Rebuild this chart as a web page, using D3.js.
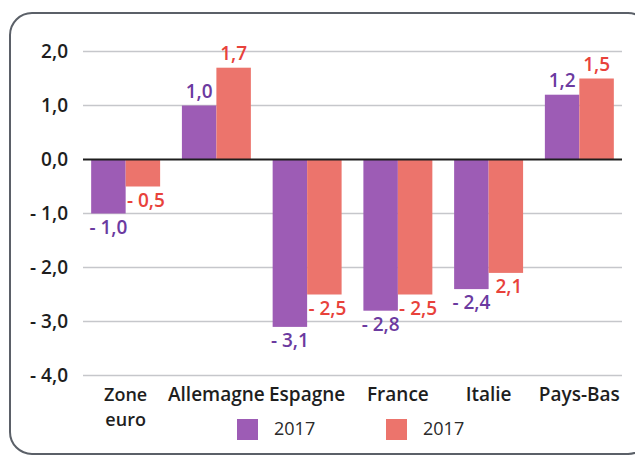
<!DOCTYPE html>
<html>
<head>
<meta charset="utf-8">
<script src="https://cdn.jsdelivr.net/npm/d3@7"></script>
<style>
  html, body { margin: 0; padding: 0; background: #fff; }
  svg { display: block; font-family: "Open Sans", sans-serif; }
</style>
</head>
<body>
<script>
// chart data
const countries = ['Zone euro', 'Allemagne', 'Espagne', 'France', 'Italie', 'Pays-Bas'];
const seriesNames = ['2017', '2017'];
const purpleValues = [-1.0, 1.0, -3.1, -2.8, -2.4, 1.2];
const redValues = [-0.5, 1.7, -2.5, -2.5, -2.1, 1.5];
// labels as printed on the original (the Italie one has no minus sign)
const purpleLabels = ['- 1,0', '1,0', '- 3,1', '- 2,8', '- 2,4', '1,2'];
const redLabels = ['- 0,5', '1,7', '- 2,5', '- 2,5', '2,1', '1,5'];
const yTicks = [2, 1, 0, -1, -2, -3, -4];

const w = 635, h = 457;
const barColors = ['#9d5cb5', '#ec746c'];
const labelColors = ['#6b3aa0', '#e8423b'];

const svg = d3.select("body").append("svg")
  .attr("width", w)
  .attr("height", h);

// rounded frame
svg.append("rect")
  .attr("x", 10)
  .attr("y", 13)
  .attr("width", 640)
  .attr("height", 441)
  .attr("rx", 22)
  .attr("fill", "none")
  .attr("stroke", "#5b6068")
  .attr("stroke-width", 2);

const x0 = d3.scaleBand()
  .domain(countries)
  .range([83, 622])
  .paddingInner(0.24)
  .paddingOuter(0.09);

const x1 = d3.scaleBand()
  .domain([0, 1])
  .range([0, x0.bandwidth()]);

const y = d3.scaleLinear()
  .domain([-4, 2])
  .range([375.5, 51.5]);

// gridlines
svg.append("g").selectAll("line")
  .data(yTicks.filter(t => t !== 0))
  .enter()
  .append("line")
  .attr("x1", 83)
  .attr("x2", 622)
  .attr("y1", d => y(d))
  .attr("y2", d => y(d))
  .attr("stroke", "#c6c7cb")
  .attr("stroke-width", 1.5);

// y tick labels
const fmt = v => {
  const s = Math.abs(v).toFixed(1).replace('.', ',');
  return v < 0 ? '- ' + s : s;
};
svg.append("g").selectAll("text")
  .data(yTicks)
  .enter()
  .append("text")
  .attr("x", 68)
  .attr("y", d => y(d))
  .attr("dy", "0.36em")
  .attr("text-anchor", "end")
  .attr("font-size", 19)
  .attr("font-weight", 600)
  .attr("fill", "#1e1e1e")
  .text(d => fmt(d));

const rows = countries.map((c, i) => ({
  country: c,
  vals: [
    { s: 0, v: purpleValues[i], label: purpleLabels[i] },
    { s: 1, v: redValues[i], label: redLabels[i] }
  ]
}));

const groups = svg.append("g").selectAll("g")
  .data(rows)
  .enter()
  .append("g")
  .attr("transform", d => `translate(${x0(d.country)},0)`);

groups.selectAll("rect")
  .data(d => d.vals)
  .enter()
  .append("rect")
  .attr("x", d => x1(d.s))
  .attr("y", d => y(Math.max(0, d.v)))
  .attr("width", x1.bandwidth())
  .attr("height", d => Math.abs(y(d.v) - y(0)))
  .attr("fill", d => barColors[d.s]);

groups.selectAll("text")
  .data(d => d.vals)
  .enter()
  .append("text")
  .attr("x", d => x1(d.s) + x1.bandwidth() / 2 + (d.s === 1 && d.v < 0 ? 3 : 0))
  .attr("y", d => d.v >= 0 ? y(d.v) - 8 : y(d.v) + 20)
  .attr("text-anchor", "middle")
  .attr("font-size", 19)
  .attr("font-weight", 600)
  .attr("fill", d => labelColors[d.s])
  .text(d => d.label);

// zero line
svg.append("line")
  .attr("x1", 83)
  .attr("x2", 622)
  .attr("y1", y(0))
  .attr("y2", y(0))
  .attr("stroke", "#1e1e1e")
  .attr("stroke-width", 2);

// category labels, "Zone euro" wraps on two lines
const catLines = [];
countries.forEach(c => {
  const parts = c === 'Zone euro' ? ['Zone', 'euro'] : [c];
  parts.forEach((p, i) => catLines.push({ country: c, text: p, line: i, wrapped: parts.length > 1 }));
});

svg.append("g").selectAll("text")
  .data(catLines)
  .enter()
  .append("text")
  .attr("x", d => x0(d.country) + x0.bandwidth() / 2)
  .attr("y", d => 401 + d.line * 25)
  .attr("text-anchor", "middle")
  .attr("font-size", d => d.wrapped ? 18 : 19)
  .attr("font-weight", 600)
  .attr("fill", "#1e1e1e")
  .text(d => d.text);

// legend
const legendX = [237, 386];
const legend = svg.append("g").selectAll("g")
  .data(seriesNames)
  .enter()
  .append("g")
  .attr("transform", (d, i) => `translate(${legendX[i]},419)`);

legend.append("rect")
  .attr("width", 21)
  .attr("height", 21)
  .attr("fill", (d, i) => barColors[i]);

legend.append("text")
  .attr("x", 37)
  .attr("y", 16)
  .attr("font-size", 18)
  .attr("fill", "#2a2a2a")
  .text(d => d);
</script>
</body>
</html>
